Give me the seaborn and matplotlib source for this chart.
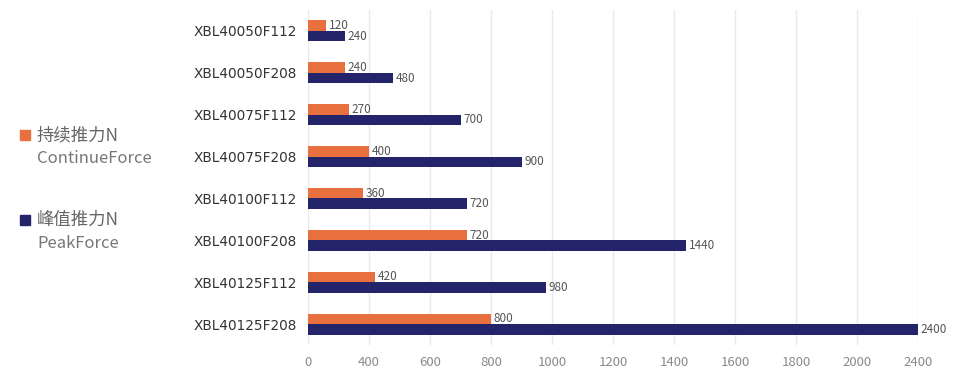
import numpy as np
import pandas as pd
import seaborn as sns
import matplotlib.pyplot as plt

# data
models = ["XBL40050F112", "XBL40050F208", "XBL40075F112", "XBL40075F208",
          "XBL40100F112", "XBL40100F208", "XBL40125F112", "XBL40125F208"]
continue_force = [120, 240, 270, 400, 360, 720, 420, 800]
peak_force = [240, 480, 700, 900, 720, 1440, 980, 2400]
tick_values = [0, 400, 600, 800, 1000, 1200, 1400, 1600, 1800, 2000, 2400]

series_cn = ["持续推力N", "峰值推力N"]
series_en = ["ContinueForce", "PeakForce"]
colors = ["#E8703F", "#24246B"]

df = pd.DataFrame({
    "model": models * 2,
    "force": continue_force + peak_force,
    "series": [series_en[0]] * len(models) + [series_en[1]] * len(models),
})

sns.set_style("white")
plt.rcParams["font.family"] = ["Noto Sans CJK SC", "DejaVu Sans"]

fig = plt.figure(figsize=(9.65, 3.91), dpi=100)
ax = fig.add_axes([308 / 965, 1 - 345 / 391, 610 / 965, 335 / 391])

# the axis in the original has evenly spaced ticks at uneven values
tick_pos = np.arange(len(tick_values), dtype=float)
fwd = lambda v: np.interp(v, tick_values, tick_pos)
inv = lambda p: np.interp(p, tick_pos, tick_values)
ax.set_xscale("function", functions=(fwd, inv))

sns.barplot(data=df, y="model", x="force", hue="series", orient="h",
            palette=colors, saturation=1, width=0.5, linewidth=0,
            ax=ax, legend=False)

for cont in ax.containers:
    ax.bar_label(cont, fmt="%d", padding=2, fontsize=8.5, color="#555555",
                 clip_on=False)

ax.set_xlim(0, 2400)
ax.set_ylim(7.5, -0.5)
ax.set_xticks(tick_values)
ax.set_xticklabels([str(t) for t in tick_values], color="#8a8a8a", fontsize=9.5)
ax.tick_params(axis="x", length=0, pad=8)
ax.tick_params(axis="y", length=0, pad=8)
for lab in ax.get_yticklabels():
    lab.set_color("#333333")
    lab.set_fontsize(9.8)
    lab.set_family("DejaVu Sans")
ax.set_xlabel("")
ax.set_ylabel("")
ax.grid(axis="x", color="#e9e9ef", linewidth=1)
ax.set_axisbelow(True)
for s in ax.spines.values():
    s.set_visible(False)

# legend drawn at the left as in the original
for i, y in enumerate([135, 220]):
    fig.patches.append(plt.Rectangle((20 / 965, 1 - (y + 5) / 391), 10 / 965, 10 / 391,
                                     transform=fig.transFigure, color=colors[i]))
    fig.text(37 / 965, 1 - y / 391, series_cn[i], fontsize=12.5, color="#666666",
             va="center", ha="left")
    fig.text(37 / 965, 1 - (y + 23) / 391, series_en[i], fontsize=12, color="#777777",
             va="center", ha="left")

fig.savefig("out.png", dpi=100)
